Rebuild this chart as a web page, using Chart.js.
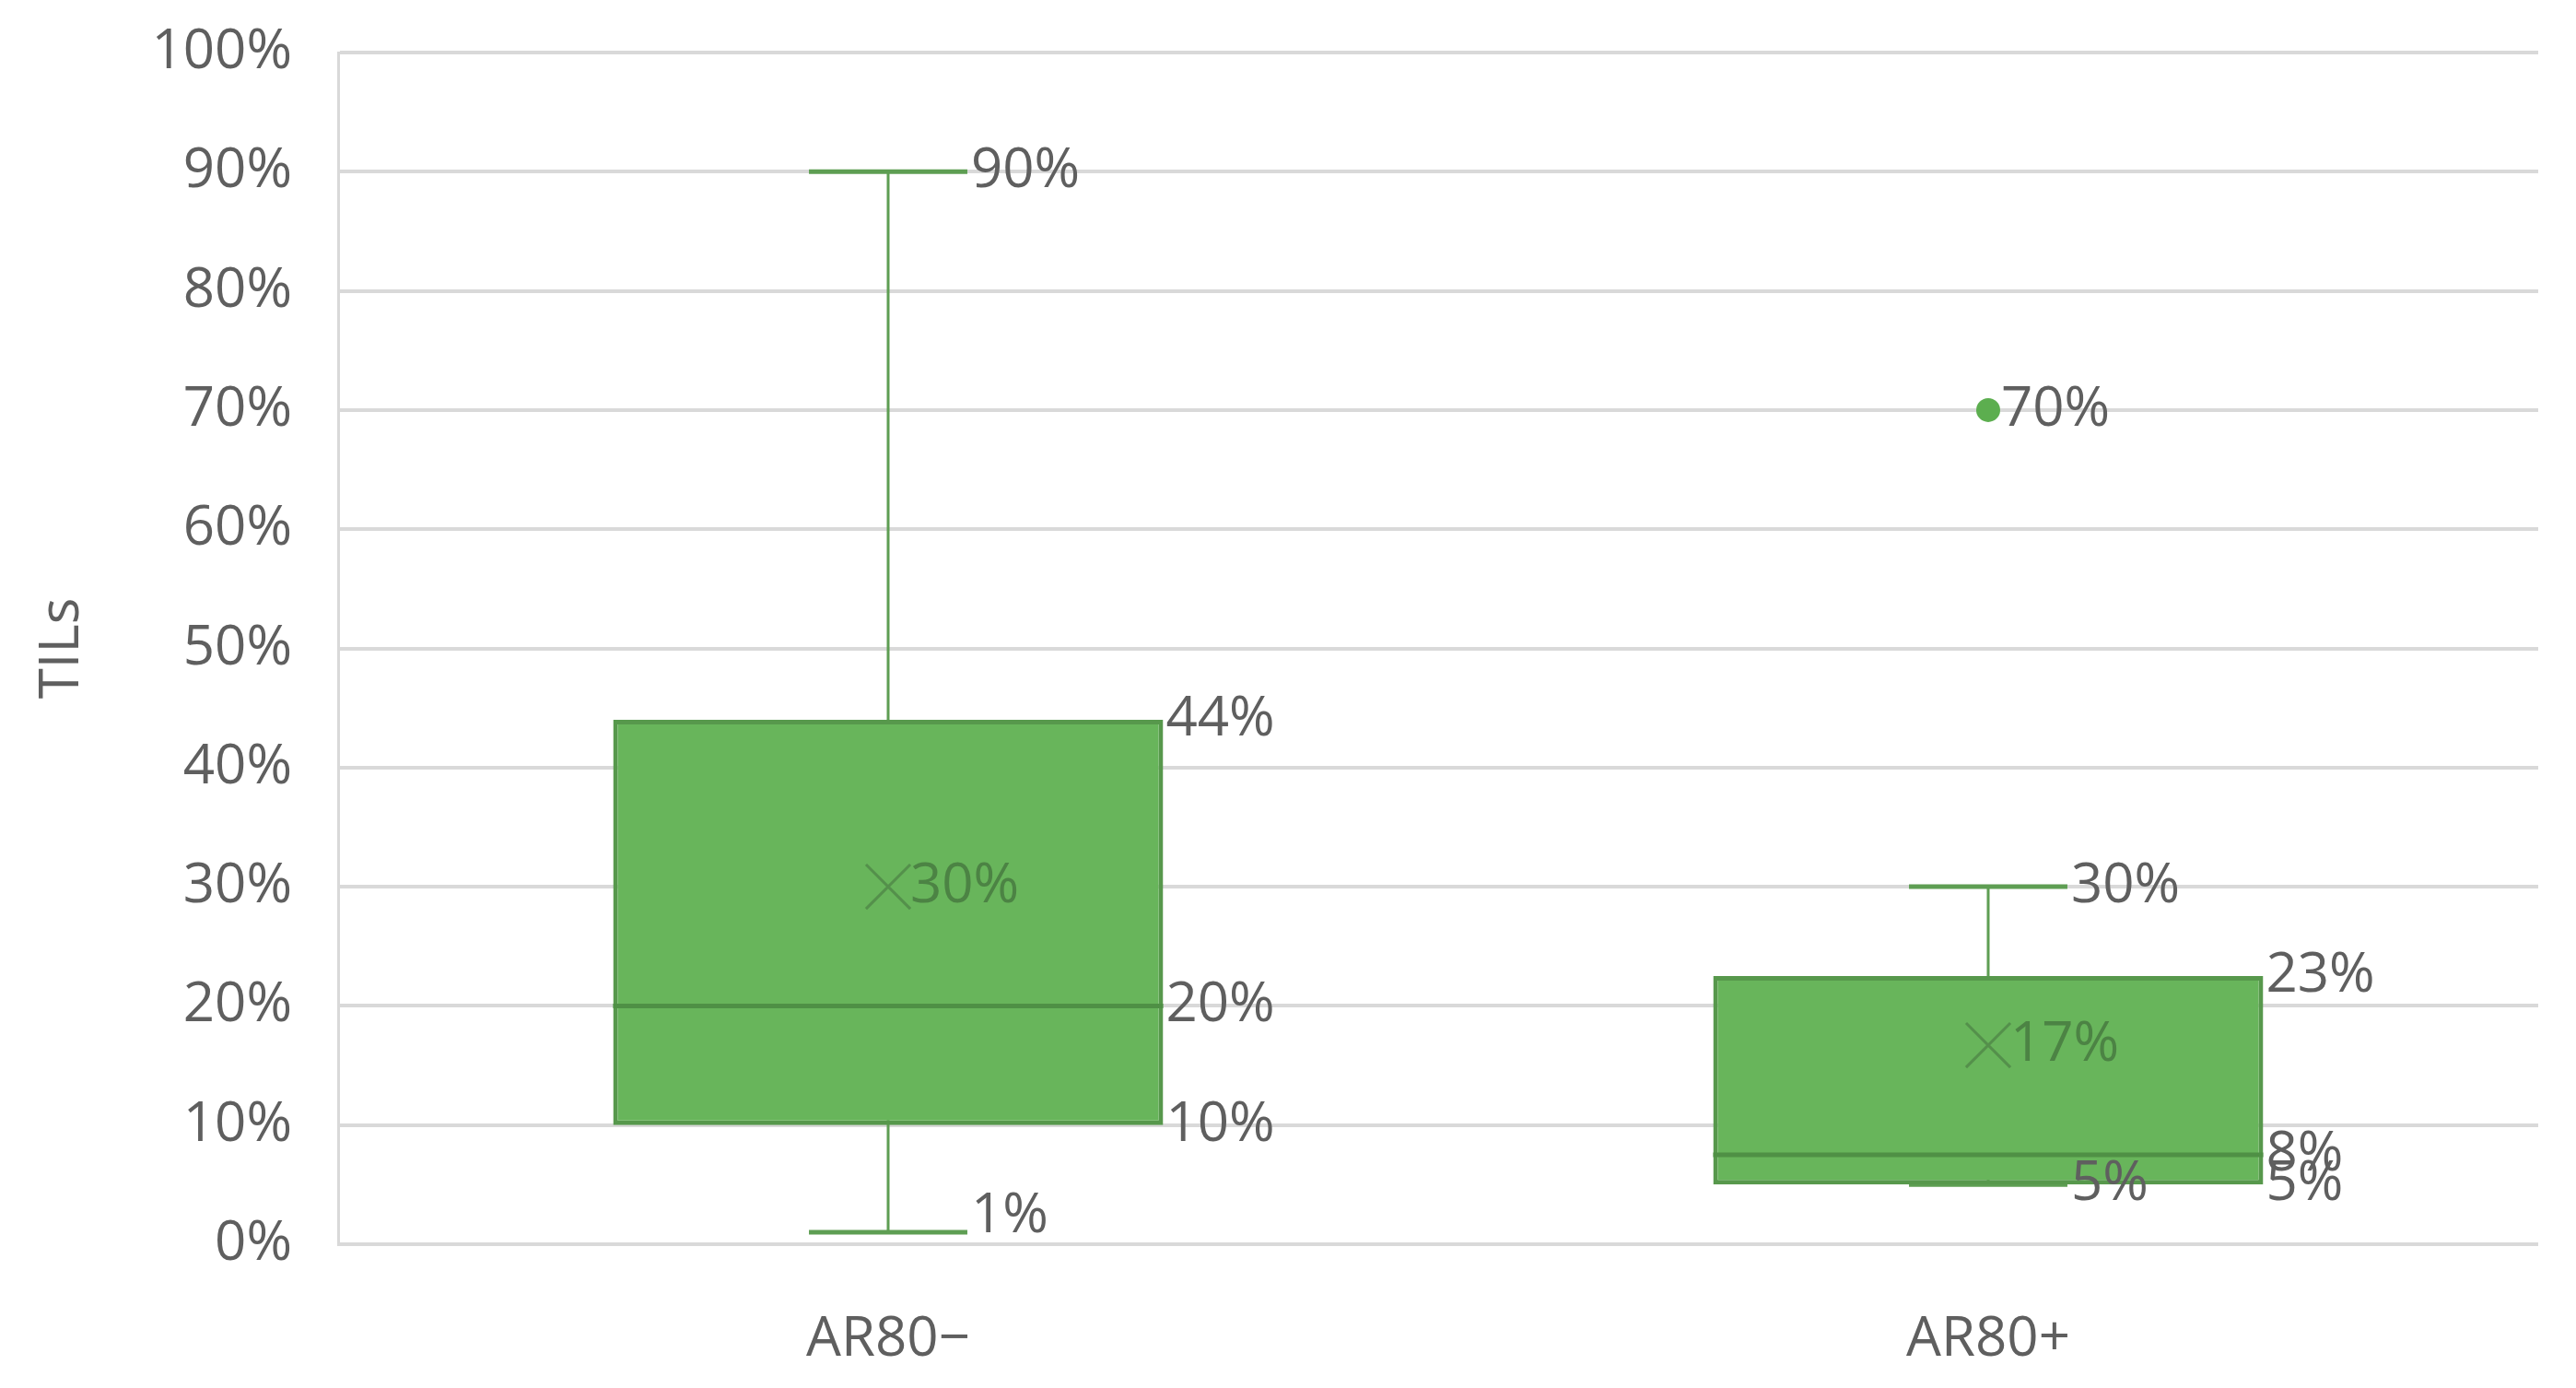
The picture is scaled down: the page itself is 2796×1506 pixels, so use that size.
<!DOCTYPE html>
<html>
<head>
<meta charset="utf-8">
<script src="https://cdn.jsdelivr.net/npm/chart.js@4.4.1/dist/chart.umd.min.js"></script>
<style>
  body { margin: 0; background: #ffffff; }
  #wrap { width: 2796px; height: 1506px; }
</style>
</head>
<body>
<div id="wrap"><canvas id="tils" width="2796" height="1506"></canvas></div>
<script>
// box plot values (percent)
const categories = ['AR80\u2212', 'AR80+'];
const minVals = [1, 5];
const q1Vals = [10, 5];
const medianVals = [20, 7.5];
const q3Vals = [44, 22.5];
const maxVals = [90, 30];
const meanVals = [30, 16.7];
const outlierVals = [[], [70]];

const textColor = '#5f5f5f';
const fontFamily = "'Open Sans', 'Liberation Sans', sans-serif";

function pct(v) {
    return Math.round(v) + '%';
}

const boxPlotExtras = {
    id: 'boxPlotExtras',
    beforeDatasetsDraw(chart) {
        const ctx = chart.ctx;
        const x = chart.scales.x;
        const y = chart.scales.y;
        const boxes = chart.getDatasetMeta(0).data;
        ctx.save();
        ctx.strokeStyle = '#5e9e53';
        for (let i = 0; i < categories.length; i++) {
            const cx = x.getPixelForValue(i);
            const capHalf = boxes[i].width * 0.144;
            ctx.lineWidth = 3;
            ctx.beginPath();
            ctx.moveTo(cx, y.getPixelForValue(minVals[i]));
            ctx.lineTo(cx, y.getPixelForValue(maxVals[i]));
            ctx.stroke();
            ctx.lineWidth = 5;
            [minVals[i], maxVals[i]].forEach(function (v) {
                const py = y.getPixelForValue(v);
                ctx.beginPath();
                ctx.moveTo(cx - capHalf, py);
                ctx.lineTo(cx + capHalf, py);
                ctx.stroke();
            });
        }
        ctx.restore();
    },
    afterDatasetDraw(chart, args) {
        if (args.index !== 0) return;
        const ctx = chart.ctx;
        const y = chart.scales.y;
        const boxes = chart.getDatasetMeta(0).data;
        ctx.save();
        ctx.strokeStyle = '#4f9045';
        ctx.lineWidth = 5;
        for (let i = 0; i < categories.length; i++) {
            const b = boxes[i];
            const py = y.getPixelForValue(medianVals[i]);
            ctx.beginPath();
            ctx.moveTo(b.x - b.width / 2, py);
            ctx.lineTo(b.x + b.width / 2, py);
            ctx.stroke();
        }
        ctx.restore();
    },
    afterDatasetsDraw(chart) {
        const ctx = chart.ctx;
        const x = chart.scales.x;
        const y = chart.scales.y;
        const area = chart.chartArea;
        const boxes = chart.getDatasetMeta(0).data;
        ctx.save();
        ctx.font = '60px ' + fontFamily;
        ctx.textAlign = 'left';
        ctx.textBaseline = 'middle';
        function label(text, px, v, color) {
            const py = Math.min(y.getPixelForValue(v), area.bottom - 30);
            ctx.fillStyle = color || textColor;
            ctx.fillText(text, px, py);
        }
        for (let i = 0; i < categories.length; i++) {
            const b = boxes[i];
            const cx = x.getPixelForValue(i);
            const capRight = cx + b.width * 0.144 + 4;
            const boxRight = b.x + b.width / 2 + 3;
            label(pct(maxVals[i]), capRight, maxVals[i]);
            label(pct(minVals[i]), capRight, minVals[i]);
            label(pct(q3Vals[i]), boxRight, q3Vals[i]);
            label(pct(medianVals[i]), boxRight, medianVals[i]);
            label(pct(q1Vals[i]), boxRight, q1Vals[i]);
            label(pct(meanVals[i]), cx + 24, meanVals[i], '#4c8344');
            outlierVals[i].forEach(function (v) {
                label(pct(v), cx + 14, v);
            });
        }
        ctx.restore();
    }
};

const meanPoints = meanVals.map((v, i) => ({ x: categories[i], y: v }));
const outlierPoints = [];
outlierVals.forEach((list, i) => list.forEach(v => outlierPoints.push({ x: categories[i], y: v })));

new Chart(document.getElementById('tils'), {
    type: 'bar',
    data: {
        labels: categories,
        datasets: [{
            type: 'bar',
            label: 'TILs',
            data: q1Vals.map((v, i) => [v, q3Vals[i]]),
            backgroundColor: '#68b55b',
            borderColor: '#57984c',
            borderWidth: 5,
            borderSkipped: false,
            categoryPercentage: 0.5,
            barPercentage: 1,
            order: 2
        }, {
            type: 'scatter',
            label: 'Mean',
            data: meanPoints,
            pointStyle: 'crossRot',
            pointRadius: 34,
            borderColor: '#54904b',
            borderWidth: 3,
            order: 1
        }, {
            type: 'scatter',
            label: 'Outliers',
            data: outlierPoints,
            pointStyle: 'circle',
            pointRadius: 13,
            backgroundColor: '#5cae4f',
            borderWidth: 0,
            order: 1
        }]
    },
    options: {
        responsive: false,
        animation: false,
        devicePixelRatio: 1,
        layout: { padding: { top: 57, right: 41, bottom: 0, left: 0 } },
        plugins: {
            legend: { display: false },
            tooltip: { enabled: false }
        },
        scales: {
            x: {
                type: 'category',
                grid: { display: false, drawTicks: false },
                border: { display: false },
                ticks: {
                    color: textColor,
                    padding: 68,
                    font: { size: 60, family: fontFamily }
                },
                afterFit(scale) { scale.height = 156; }
            },
            y: {
                min: 0,
                max: 100,
                grid: { color: '#d9d9d9', lineWidth: 4, drawTicks: false },
                border: { display: true, color: '#d9d9d9', width: 3 },
                ticks: {
                    stepSize: 10,
                    color: textColor,
                    padding: 50,
                    font: { size: 60, family: fontFamily },
                    callback: v => v + '%'
                },
                title: {
                    display: true,
                    text: 'TILs',
                    color: textColor,
                    padding: { top: 32, bottom: 0 },
                    font: { size: 60, family: fontFamily }
                },
                afterFit(scale) {
                    scale.width = 367;
                    scale.paddingTop = 0;
                    scale.paddingBottom = 0;
                }
            }
        }
    },
    plugins: [boxPlotExtras]
});
</script>
</body>
</html>
